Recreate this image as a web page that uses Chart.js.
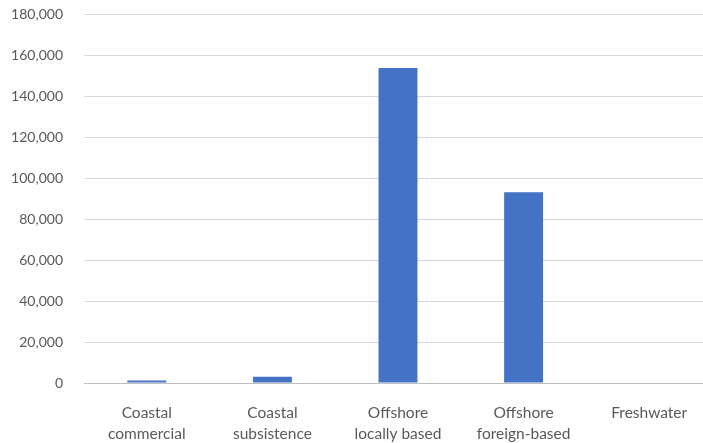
<!DOCTYPE html>
<html>
<head>
<meta charset="utf-8">
<script src="https://cdn.jsdelivr.net/npm/chart.js@4"></script>
<style>
  html, body { margin: 0; padding: 0; background: #fff; overflow: hidden; }
  #wrap { width: 712px; height: 443px; }
</style>
</head>
<body>
<div id="wrap"><canvas id="myChart" width="712" height="443"></canvas></div>
<script>
// data
var categories = [
  ["Coastal", "commercial"],
  ["Coastal", "subsistence"],
  ["Offshore", "locally based"],
  ["Offshore", "foreign-based"],
  "Freshwater",
];
var catchValues = [1200, 3100, 153600, 93100, 300];
var yTicks = [0, 20000, 40000, 60000, 80000, 100000, 120000, 140000, 160000, 180000];

var fontFamily = "Lato, 'Liberation Sans', sans-serif";

var ctx = document.getElementById("myChart").getContext("2d");
var chart = new Chart(ctx, {
  type: "bar",
  data: {
    labels: categories,
    datasets: [
      {
        data: catchValues,
        backgroundColor: "#4472C4",
        barPercentage: 0.31,
        categoryPercentage: 1,
      },
    ],
  },
  options: {
    responsive: false,
    animation: false,
    layout: { padding: { top: 14, left: 0, right: 0, bottom: 0 } },
    plugins: { legend: { display: false }, tooltip: { enabled: false } },
    scales: {
      x: {
        grid: { display: false },
        border: { color: "#bfbfbf", width: 1 },
        ticks: {
          color: "#595959",
          font: { family: fontFamily, size: 15.5, lineHeight: 1.35 },
          padding: 12,
          maxRotation: 0,
          autoSkip: false,
        },
        afterFit: function (scale) {
          scale.height = 60;
          scale.paddingLeft = 0;
          scale.paddingRight = 0;
        },
      },
      y: {
        min: 0,
        max: 180000,
        afterBuildTicks: function (scale) {
          scale.ticks = yTicks.map(function (v) { return { value: v }; });
        },
        grid: { color: "#d9d9d9", drawTicks: false },
        border: { display: false },
        ticks: {
          color: "#595959",
          font: { family: fontFamily, size: 14 },
          padding: 21,
          callback: function (v) { return v.toLocaleString("en-US"); },
        },
        afterFit: function (scale) {
          scale.width = 84;
          scale.paddingTop = 0;
          scale.paddingBottom = 0;
        },
      },
    },
  },
});
</script>
</body>
</html>
